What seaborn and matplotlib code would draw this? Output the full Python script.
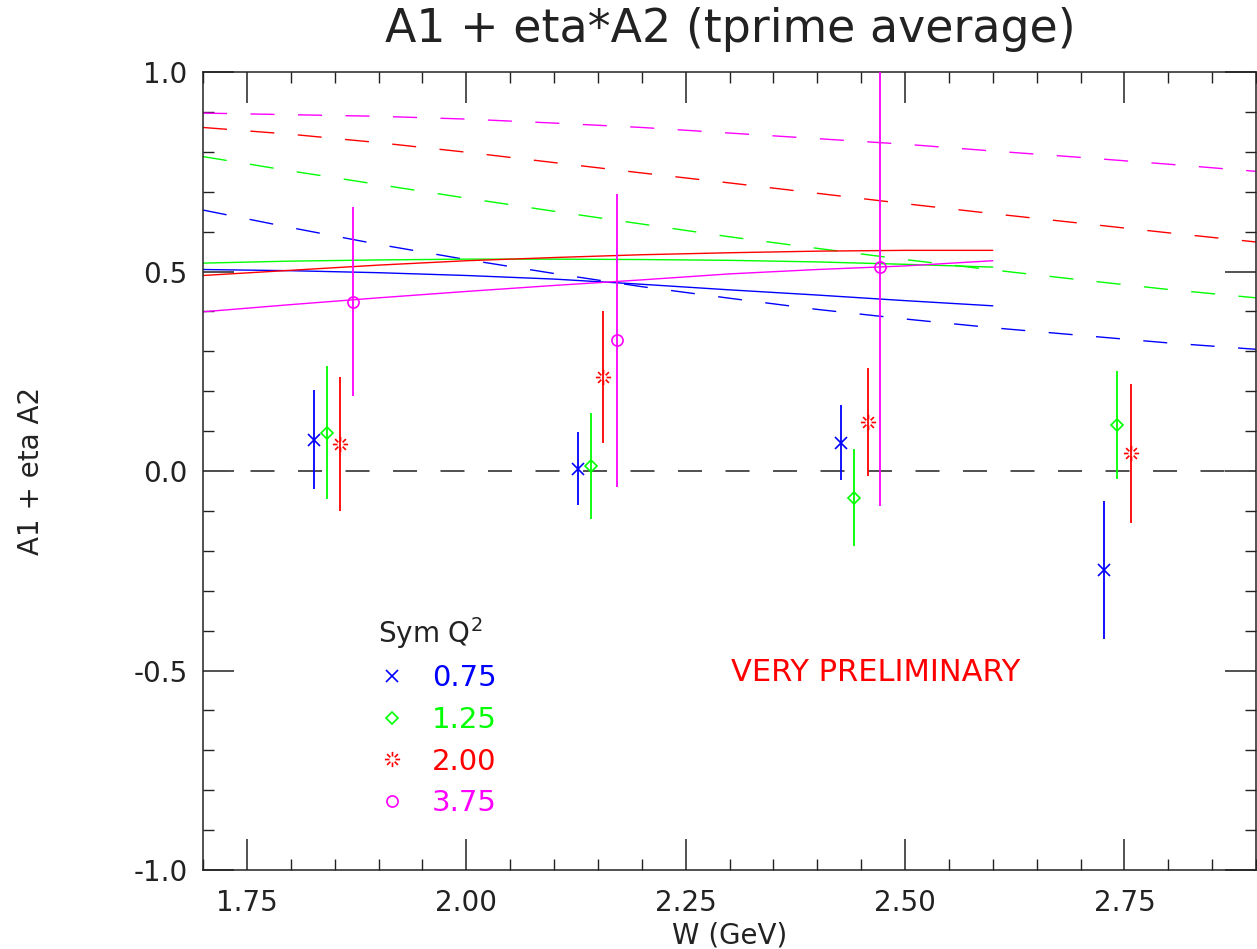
import numpy as np
import pandas as pd
import seaborn as sns
import matplotlib
matplotlib.use("Agg")
import matplotlib.pyplot as plt
from matplotlib.path import Path
from matplotlib.lines import Line2D
from matplotlib.ticker import MultipleLocator

# ---- data -------------------------------------------------------------
q2_labels = ["0.75", "1.25", "2.00", "3.75"]

w_q075 = [1.827, 2.127, 2.427, 2.727]
a_q075 = [0.078, 0.006, 0.071, -0.248]
e_q075 = [0.124, 0.091, 0.094, 0.174]

w_q125 = [1.841, 2.142, 2.442, 2.742]
a_q125 = [0.096, 0.013, -0.067, 0.115]
e_q125 = [0.167, 0.133, 0.122, 0.135]

w_q200 = [1.856, 2.156, 2.458, 2.758]
a_q200 = [0.067, 0.236, 0.122, 0.044]
e_q200 = [0.168, 0.165, 0.135, 0.174]

w_q375 = [1.871, 2.172, 2.472]
a_q375 = [0.424, 0.328, 0.511]
e_q375 = [0.237, 0.367, 0.599]

# model curves (solid, W = 1.7 ... 2.6)
w_model = [1.7, 1.8, 1.9, 2.0, 2.1, 2.2, 2.3, 2.4, 2.5, 2.6]
m_q075 = [0.505, 0.502, 0.497, 0.490, 0.481, 0.468, 0.454, 0.441, 0.427, 0.414]
m_q125 = [0.521, 0.526, 0.529, 0.531, 0.531, 0.530, 0.528, 0.524, 0.518, 0.511]
m_q200 = [0.490, 0.503, 0.516, 0.527, 0.535, 0.542, 0.547, 0.551, 0.553, 0.553]
m_q375 = [0.399, 0.417, 0.434, 0.450, 0.465, 0.479, 0.494, 0.505, 0.514, 0.527]

# bound curves (dashed, W = 1.7 ... 2.9)
w_bound = [1.7, 1.8, 1.9, 2.0, 2.1, 2.2, 2.3, 2.4, 2.5, 2.6, 2.7, 2.8, 2.9]
b_q075 = [0.654, 0.610, 0.568, 0.530, 0.495, 0.462, 0.433, 0.405, 0.381, 0.359, 0.340, 0.321, 0.305]
b_q125 = [0.788, 0.752, 0.718, 0.684, 0.651, 0.619, 0.587, 0.558, 0.530, 0.504, 0.479, 0.455, 0.434]
b_q200 = [0.861, 0.844, 0.823, 0.799, 0.773, 0.747, 0.722, 0.696, 0.670, 0.645, 0.621, 0.597, 0.574]
b_q375 = [0.897, 0.893, 0.889, 0.882, 0.872, 0.861, 0.847, 0.833, 0.819, 0.802, 0.786, 0.769, 0.751]

# ---- style ------------------------------------------------------------
sns.set_theme(style="ticks")
plt.rcParams["font.family"] = ["DejaVu Sans"]
plt.rcParams["axes.linewidth"] = 1.1
plt.rcParams["lines.scale_dashes"] = False

colors = ["#0000ff", "#00ff00", "#ff0000", "#ff00ff"]

# open "burst" symbol: eight short radial strokes around an empty centre
_ang = np.deg2rad(np.arange(0, 360, 45))
_verts, _codes = [], []
for a in _ang:
    _verts += [(0.4 * np.cos(a), 0.4 * np.sin(a)), (np.cos(a), np.sin(a))]
    _codes += [Path.MOVETO, Path.LINETO]
burst = Path(_verts, _codes)

markers = ["x", "D", burst, "o"]
msizes = [8.5, 6.5, 11.0, 8.0]

fig = plt.figure(figsize=(12.57, 9.49), dpi=100)
ax = fig.add_axes([203 / 1257, 79 / 949, 1053 / 1257, 798 / 949])

dash = (0, (17.3, 16.9))

# zero reference line
ax.axhline(0.0, color="#505050", lw=1.4, ls=dash, zorder=1)

# curves
bounds = [b_q075, b_q125, b_q200, b_q375]
models = [m_q075, m_q125, m_q200, m_q375]
for c, b, m in zip(colors, bounds, models):
    sns.lineplot(x=w_bound, y=b, color=c, lw=1.0, linestyle=dash, ax=ax,
                 estimator=None, sort=False)
    sns.lineplot(x=w_model, y=m, color=c, lw=1.0, ax=ax,
                 estimator=None, sort=False)

# data points with error bars
series = [(w_q075, a_q075, e_q075), (w_q125, a_q125, e_q125),
          (w_q200, a_q200, e_q200), (w_q375, a_q375, e_q375)]
for (w, a, e), c, mk, ms in zip(series, colors, markers, msizes):
    ax.errorbar(w, a, yerr=e, fmt="none", ecolor=c, elinewidth=1.3,
                capsize=0, zorder=3)
    ax.plot(w, a, ls="none", marker=mk, ms=ms, mec=c, mfc="none",
            mew=1.2, zorder=4)

# axes
ax.set_xlim(1.7, 2.9)
ax.set_ylim(-1.0, 1.0)
ax.xaxis.set_major_locator(MultipleLocator(0.25))
ax.xaxis.set_minor_locator(MultipleLocator(0.05))
ax.yaxis.set_major_locator(MultipleLocator(0.5))
ax.yaxis.set_minor_locator(MultipleLocator(0.1))
ax.xaxis.set_major_formatter(matplotlib.ticker.FormatStrFormatter("%.2f"))
ax.yaxis.set_major_formatter(matplotlib.ticker.FormatStrFormatter("%.1f"))
ax.tick_params(which="both", direction="in", top=True, right=True,
               color="#222222", labelsize=20, labelcolor="#222222")
ax.tick_params(which="major", length=22, width=1.1)
ax.tick_params(which="minor", length=8, width=1.0)
ax.tick_params(axis="x", which="major", pad=14)
ax.tick_params(axis="y", which="major", pad=11)
ax.xaxis.set_ticks([1.75, 2.00, 2.25, 2.50, 2.75])
for s in ax.spines.values():
    s.set_color("#222222")

ax.set_xlabel("W (GeV)", fontsize=20, color="#222222")
ax.xaxis.set_label_coords(0.5, -0.064)
ax.set_ylabel("A1 + eta A2", fontsize=20, color="#222222")
ax.yaxis.set_label_coords(-0.150, 0.50)

fig.text(0.581, 1 - 30 / 949, "A1 + eta*A2 (tprime average)",
         ha="center", va="center", fontsize=33, color="#222222")

ax.text(2.467, -0.504, "VERY PRELIMINARY", color="#ff0000", fontsize=22,
        ha="center", va="center")

# legend
handles = [Line2D([], [], ls="none", marker=mk, ms=ms, mec=c, mfc="none", mew=1.2)
           for c, mk, ms in zip(colors, markers, msizes)]
leg = ax.legend(handles, q2_labels, title="Sym Q$^2$", loc="upper left",
                bbox_to_anchor=(0.166, 0.320), frameon=False, fontsize=21,
                title_fontsize=20, labelcolor=colors, handlelength=1.0,
                handletextpad=0.85, labelspacing=0.47, borderpad=0,
                borderaxespad=0, alignment="left")
leg.get_title().set_color("#222222")

fig.savefig("out.png", dpi=100)
